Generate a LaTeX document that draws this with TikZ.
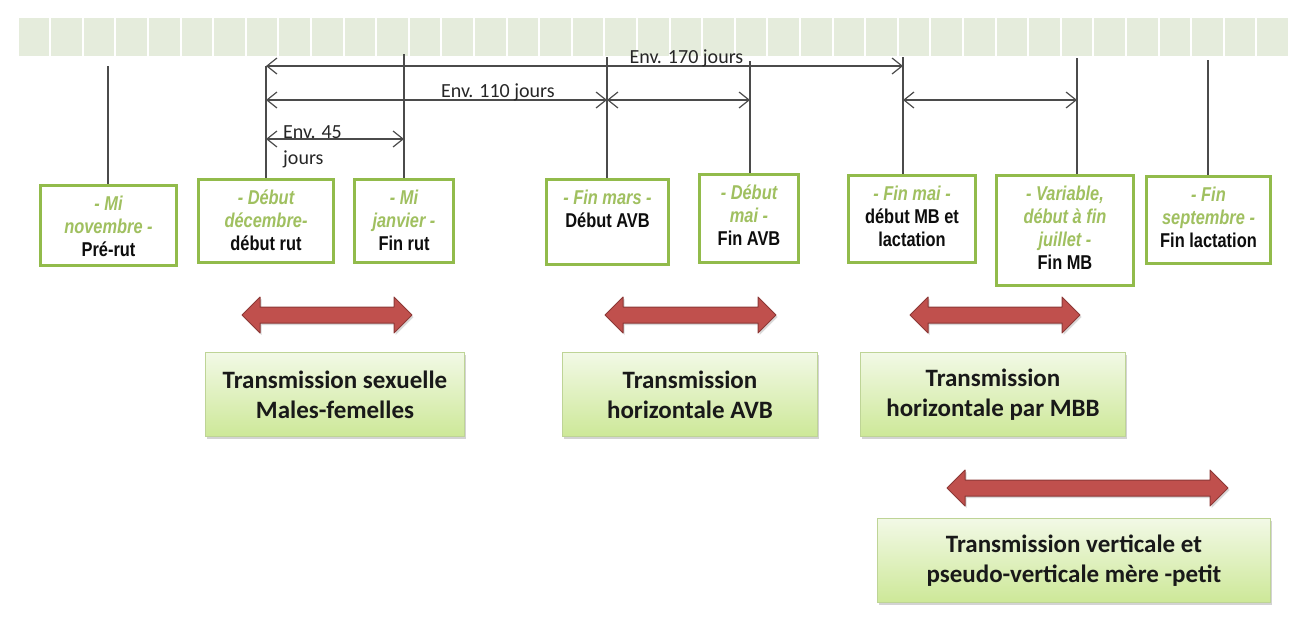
\documentclass[tikz,border=0pt]{standalone}
\usepackage{fontspec}
\setmainfont{Carlito}
\newfontfamily\narrowsans{Liberation Sans}[FakeStretch=0.82]
\usetikzlibrary{arrows.meta,shadows}

\definecolor{bandcell}{RGB}{229,236,220}
\definecolor{boxgreen}{RGB}{146,187,75}
\definecolor{textgreen}{RGB}{160,192,96}
\definecolor{linegray}{RGB}{75,75,75}
\definecolor{arrowred}{RGB}{192,80,77}
\definecolor{arrowdark}{RGB}{140,56,54}
\definecolor{transtop}{RGB}{242,249,230}
\definecolor{transbot}{RGB}{205,232,152}
\definecolor{transline}{RGB}{190,212,150}

% green italic date line
\newcommand{\dg}[1]{\textcolor{textgreen}{\itshape\strut #1}}

\tikzset{
  datebox/.style={draw=boxgreen, line width=3pt, fill=white, inner sep=0pt, anchor=north},
  datetext/.style={font=\narrowsans\bfseries\fontsize{20}{23}\selectfont, text=black!95,
    align=center, inner sep=0pt, anchor=north},
  tickline/.style={draw=linegray, line width=1.2pt},
  spanline/.style={draw=linegray, line width=1.2pt, <->},
  spanlabel/.style={font=\fontsize{20}{26}\selectfont, text=black!85, inner sep=0pt},
  transbox/.style={draw=transline, line width=0.8pt, top color=transtop, bottom color=transbot,
    font=\bfseries\fontsize{25}{30}\selectfont, text=black!90, align=center,
    minimum height=84pt, inner sep=0pt,
    drop shadow={shadow xshift=1.5pt, shadow yshift=-2.5pt, opacity=0.35}},
  bigarrow/.style={fill=arrowred, draw=arrowdark, line width=1pt, line join=round,
    drop shadow={shadow xshift=1.5pt, shadow yshift=-2pt, opacity=0.3}}
}

\begin{document}
\begin{tikzpicture}[x=1pt, y=-1pt, >={Straight Barb[length=10pt, width=16pt]}]
  \useasboundingbox (0,0) rectangle (1295,619);

  % time band
  \foreach \i in {0,...,38}
    \fill[bandcell] (18.5+\i*32.6, 18) rectangle ++(30.6, 38);

  % tick positions
  \coordinate (l1) at (108,66);
  \coordinate (l2) at (266,66);
  \coordinate (l3) at (404,54);
  \coordinate (l4) at (607,57);
  \coordinate (l5) at (750,61);
  \coordinate (l6) at (903,57);
  \coordinate (l7) at (1077,58);
  \coordinate (l8) at (1208,60);

  \coordinate (r170) at (0,66);
  \coordinate (r110) at (0,100);
  \coordinate (r45) at (0,139);

  % date boxes
  \node[datebox, minimum width=136pt, minimum height=80pt] (nov) at (108.5,183.5) {};
  \node[datebox, minimum width=135pt, minimum height=83pt] (dec) at (266,177.5) {};
  \node[datebox, minimum width=99pt, minimum height=83pt] (jan) at (404,177.5) {};
  \node[datebox, minimum width=122pt, minimum height=85pt] (mars) at (607.5,177.5) {};
  \node[datebox, minimum width=99pt, minimum height=88pt] (mai) at (749,172.5) {};
  \node[datebox, minimum width=127pt, minimum height=87pt] (finmai) at (912,173.5) {};
  \node[datebox, minimum width=137pt, minimum height=110pt] (juil) at (1065,173.5) {};
  \node[datebox, minimum width=124pt, minimum height=87pt] (sept) at (1208.5,174.5) {};

  \node[datetext] (nov-t) at ([yshift=-10.5pt]nov.north) {\dg{- Mi}\\\dg{novembre -}\\Pré-rut};
  \node[datetext] (dec-t) at ([yshift=-10.5pt]dec.north) {\dg{- Début}\\\dg{décembre-}\\début rut};
  \node[datetext] (jan-t) at ([yshift=-10.5pt]jan.north) {\dg{- Mi}\\\dg{janvier -}\\Fin rut};
  \node[datetext] (mars-t) at ([yshift=-10.5pt]mars.north) {\dg{- Fin mars -}\\Début AVB};
  \node[datetext] (mai-t) at ([yshift=-10.5pt]mai.north) {\dg{- Début}\\\dg{mai -}\\Fin AVB};
  \node[datetext] (finmai-t) at ([yshift=-10.5pt]finmai.north) {\dg{- Fin mai -}\\début MB et\\lactation};
  \node[datetext] (juil-t) at ([yshift=-10.5pt]juil.north) {\dg{- Variable,}\\\dg{début à fin}\\\dg{juillet -}\\Fin MB};
  \node[datetext] (sept-t) at ([yshift=-10.5pt]sept.north) {\dg{- Fin}\\\dg{septembre -}\\Fin lactation};

  % ticks down to the boxes
  \draw[tickline] (l1) -- (l1 |- nov.north);
  \draw[tickline] (l2) -- (l2 |- dec.north);
  \draw[tickline] (l3) -- (l3 |- jan.north);
  \draw[tickline] (l4) -- (l4 |- mars.north);
  \draw[tickline] (l5) -- (l5 |- mai.north);
  \draw[tickline] (l6) -- (l6 |- finmai.north);
  \draw[tickline] (l7) -- (l7 |- juil.north);
  \draw[tickline] (l8) -- (l8 |- sept.north);

  % durations
  \draw[spanline] (l2 |- r170) -- node[spanlabel, above, pos=.66, yshift=-2pt] (d170) {Env. 170 jours} (l6 |- r170);
  \draw[spanline] (l2 |- r110) -- node[spanlabel, above, pos=.68, yshift=-2pt] (d110) {Env. 110 jours} (l4 |- r110);
  \draw[spanline] (l4 |- r110) -- (l5 |- r110);
  \draw[spanline] (l6 |- r110) -- (l7 |- r110);
  \draw[spanline] (l2 |- r45) -- (l3 |- r45);
  \node[spanlabel, anchor=north west, align=left] (d45) at (283,125) {Env. 45\\jours};

  % transmission periods
  \foreach \a/\b/\y in {242/412/315, 605/776/315, 910/1080/315, 947/1228/488}
    \draw[bigarrow] (\a,\y) -- ++(18,-18) -- ++(0,10) -- (\b-18,\y-8) -- ++(0,-10) -- (\b,\y)
      -- ++(-18,18) -- ++(0,-10) -- (\a+18,\y+8) -- ++(0,10) -- cycle;

  \node[transbox, minimum width=259pt] (sexe) at (335,394.5) {Transmission sexuelle\\Males-femelles};
  \node[transbox, minimum width=255pt] (avb) at (690,394.5) {Transmission\\horizontale AVB};
  \node[transbox, minimum width=265pt] (mbb) at (993,394.5) {Transmission\\horizontale par MBB};
  \node[transbox, minimum width=393pt] (mere) at (1074,560.5) {Transmission verticale et\\pseudo-verticale mère -petit};
\end{tikzpicture}
\end{document}
